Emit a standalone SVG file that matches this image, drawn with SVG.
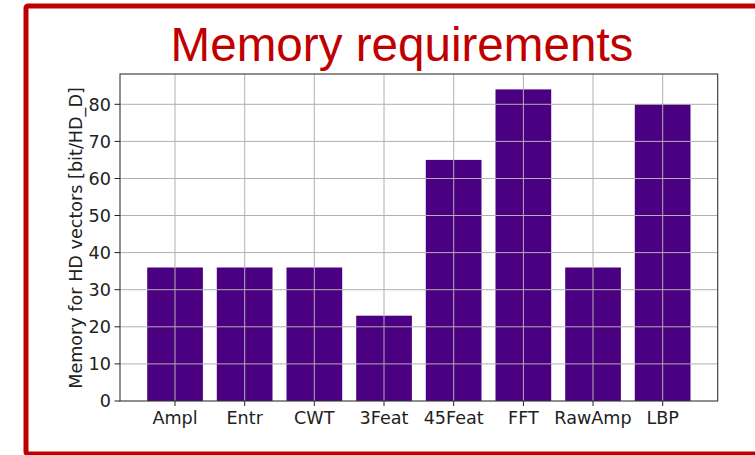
<svg xmlns="http://www.w3.org/2000/svg" width="755" height="455" viewBox="0 0 755 455">
<style>
.bar{fill:#4B0082}
.grid{stroke:#b0b0b0;stroke-width:1;fill:none}
.tick{stroke:#222;stroke-width:1}
.lbl{font-family:"DejaVu Sans",sans-serif;font-size:17.6px;fill:#222}
</style>
<rect x="0" y="0" width="755" height="455" fill="#ffffff"/>
<rect x="26" y="6" width="760" height="448" rx="2" fill="none" stroke="#C00000" stroke-width="5"/>
<text x="402" y="61" text-anchor="middle" font-family="Liberation Sans, Arial, sans-serif" font-size="47.6" fill="#C00000">Memory requirements</text>
<g id="bars">
<rect class="bar" x="147.2" y="267.5" width="55.7" height="133.5"/>
<rect class="bar" x="216.8" y="267.5" width="55.7" height="133.5"/>
<rect class="bar" x="286.5" y="267.5" width="55.7" height="133.5"/>
<rect class="bar" x="356.2" y="315.7" width="55.7" height="85.3"/>
<rect class="bar" x="425.8" y="159.9" width="55.7" height="241.1"/>
<rect class="bar" x="495.5" y="89.4" width="55.7" height="311.6"/>
<rect class="bar" x="565.2" y="267.5" width="55.7" height="133.5"/>
<rect class="bar" x="634.8" y="104.3" width="55.7" height="296.7"/>
</g>
<g id="grid" class="grid">
<path d="M175 74V401M244.7 74V401M314.3 74V401M384 74V401M453.7 74V401M523.4 74V401M593 74V401M662.7 74V401"/>
<path d="M120 363.9H717.7M120 326.8H717.7M120 289.7H717.7M120 252.6H717.7M120 215.5H717.7M120 178.5H717.7M120 141.4H717.7M120 104.3H717.7"/>
</g>
<g id="axes">
<rect x="120" y="74" width="597.7" height="327" fill="none" stroke="#333" stroke-width="1.1"/>
<path class="tick" d="M114.5 401H120M114.5 363.9H120M114.5 326.8H120M114.5 289.7H120M114.5 252.6H120M114.5 215.5H120M114.5 178.5H120M114.5 141.4H120M114.5 104.3H120"/>
<path class="tick" d="M175 401V406M244.7 401V406M314.3 401V406M384 401V406M453.7 401V406M523.4 401V406M593 401V406M662.7 401V406"/>
</g>
<g id="yticklabels" class="lbl" text-anchor="end">
<text x="111" y="407.4">0</text>
<text x="111" y="370.3">10</text>
<text x="111" y="333.2">20</text>
<text x="111" y="296.1">30</text>
<text x="111" y="259">40</text>
<text x="111" y="221.9">50</text>
<text x="111" y="184.9">60</text>
<text x="111" y="147.8">70</text>
<text x="111" y="110.7">80</text>
</g>
<g id="xticklabels" class="lbl" text-anchor="middle">
<text x="175" y="424">Ampl</text>
<text x="244.7" y="424">Entr</text>
<text x="314.3" y="424">CWT</text>
<text x="384" y="424">3Feat</text>
<text x="453.7" y="424">45Feat</text>
<text x="523.4" y="424">FFT</text>
<text x="593" y="424">RawAmp</text>
<text x="662.7" y="424">LBP</text>
</g>
<text class="lbl" transform="translate(81.5,238) rotate(-90)" text-anchor="middle">Memory for HD vectors [bit/HD_D]</text>
</svg>
